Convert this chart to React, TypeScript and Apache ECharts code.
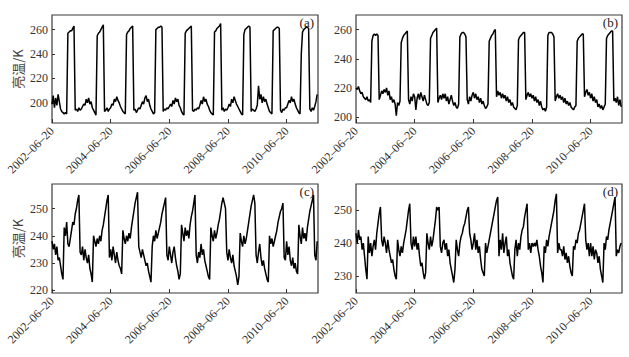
import React, { useEffect, useRef } from "react";
import * as echarts from "echarts";

// Half-monthly samples starting 2002-06-20 (x measured in years since then)
const START_YEAR = 2002;
const STEP_YEARS = 1 / 24;
const X_MAX = 9.07;
const X_TICKS = [0, 2, 4, 6, 8];

const Y_TICKS_A = [200, 220, 240, 260];
const Y_TICKS_B = [200, 220, 240, 260];
const Y_TICKS_C = [220, 230, 240, 250];
const Y_TICKS_D = [230, 240, 250];

const PANEL_LABELS = ["(a)", "(b)", "(c)", "(d)"];
const Y_NAME = "亮温/K";

const seriesA = [
  199, 206, 196, 204, 198, 207, 201, 195, 193, 192, 191, 192, 191, 257, 258, 259, 259, 261, 263, 194, 195, 193, 196, 194,
  195, 197, 199, 198, 203, 200, 204, 199, 201, 196, 194, 192, 190, 255, 257, 258, 260, 262, 264, 193, 194, 196, 193, 195,
  196, 199, 198, 203, 201, 205, 202, 200, 197, 195, 193, 192, 191, 256, 258, 259, 261, 262, 263, 194, 195, 192, 194, 196,
  195, 198, 201, 199, 204, 206, 201, 203, 198, 195, 193, 191, 192, 260, 261, 262, 262, 263, 262, 193, 195, 194, 196, 195,
  197, 199, 197, 202, 199, 204, 201, 203, 198, 196, 193, 191, 190, 257, 259, 260, 261, 262, 263, 194, 193, 195, 194, 196,
  195, 198, 202, 199, 205, 201, 203, 199, 197, 194, 192, 191, 190, 258, 259, 261, 262, 263, 265, 194, 196, 193, 195, 194,
  196, 199, 197, 203, 200, 205, 202, 199, 197, 195, 193, 191, 190, 256, 260, 261, 262, 263, 262, 193, 195, 194, 193, 195,
  198, 214, 203, 207, 200, 205, 201, 203, 199, 196, 193, 192, 191, 259, 260, 261, 262, 262, 261, 194, 192, 195, 194, 196,
  196, 199, 202, 200, 205, 201, 203, 199, 196, 194, 192, 191, 240, 258, 260, 261, 262, 262, 261, 195, 193, 196, 194, 197,
  201, 207,
];

const seriesB = [
  220, 219, 221, 218, 216, 217, 214, 213, 212, 214, 211, 212, 210, 252, 256, 257, 256, 257, 256, 212, 215, 218, 216, 219,
  217, 220, 215, 218, 212, 214, 210, 212, 209, 201, 210, 208, 211, 251, 254, 256, 257, 258, 259, 212, 209, 214, 211, 216,
  214, 205, 213, 216, 212, 217, 214, 211, 215, 212, 209, 208, 210, 254, 256, 258, 259, 260, 261, 210, 213, 215, 212, 216,
  213, 216, 211, 214, 209, 212, 215, 211, 208, 210, 207, 206, 209, 255, 257, 258, 258, 257, 255, 212, 209, 214, 211, 215,
  217, 213, 216, 212, 214, 210, 213, 209, 211, 208, 206, 207, 209, 252, 254, 256, 257, 259, 260, 214, 218, 215, 217, 213,
  216, 213, 215, 211, 214, 210, 212, 208, 210, 207, 206, 205, 208, 253, 255, 256, 257, 258, 258, 212, 215, 217, 214, 216,
  213, 215, 211, 214, 210, 212, 208, 211, 207, 205, 206, 204, 207, 256, 258, 258, 258, 257, 255, 211, 214, 216, 213, 215,
  212, 214, 210, 213, 209, 211, 208, 210, 207, 206, 205, 207, 208, 252, 254, 255, 256, 257, 257, 214, 217, 219, 215, 217,
  213, 216, 211, 214, 210, 212, 207, 209, 206, 208, 205, 207, 209, 254, 256, 257, 258, 259, 259, 211, 213, 210, 214, 208,
  212, 207,
];

const seriesC = [
  238, 235, 237, 233, 236, 231, 232, 229, 226, 224, 243, 240, 245, 237, 236, 239, 242, 245, 244, 248, 250, 253, 255, 234,
  233, 236, 231, 235, 232, 230, 233, 228, 226, 223, 240, 238, 236, 239, 237, 240, 238, 242, 244, 247, 250, 253, 255, 232,
  235, 231, 236, 233, 230, 234, 231, 229, 228, 226, 242, 239, 237, 240, 238, 241, 239, 243, 246, 249, 252, 254, 256, 236,
  234, 232, 235, 233, 231, 229, 230, 227, 225, 223, 236, 240, 238, 242, 239, 241, 243, 245, 248, 250, 252, 254, 233, 231,
  236, 233, 230, 234, 236, 232, 229, 227, 224, 226, 244, 241, 238, 243, 240, 242, 239, 244, 247, 249, 252, 255, 233, 230,
  234, 232, 237, 233, 235, 231, 229, 227, 225, 224, 243, 240, 238, 242, 239, 241, 244, 246, 249, 252, 254, 252, 250, 234,
  231, 235, 232, 230, 233, 229, 227, 225, 222, 225, 241, 238, 236, 240, 237, 239, 242, 245, 248, 251, 253, 255, 252, 233,
  230, 234, 237, 232, 229, 231, 228, 226, 224, 223, 240, 237, 239, 236, 238, 240, 242, 245, 247, 249, 250, 252, 232, 231,
  238, 233, 236, 231, 229, 232, 228, 230, 227, 226, 244, 240, 237, 243, 239, 241, 238, 243, 246, 249, 251, 253, 255, 233,
  231, 238,
];

const seriesD = [
  243, 240, 244, 241, 242, 238, 240, 236, 232, 229, 242, 237, 240, 236, 239, 241, 238, 243, 246, 249, 251, 241, 239, 242,
  240, 237, 241, 238, 236, 234, 235, 232, 230, 229, 241, 238, 236, 239, 237, 240, 242, 244, 247, 250, 252, 240, 238, 242,
  239, 242, 238, 240, 236, 233, 234, 231, 229, 231, 243, 240, 238, 242, 239, 241, 244, 247, 251, 250, 251, 239, 237, 240,
  241, 238, 240, 236, 238, 234, 232, 230, 228, 232, 241, 238, 236, 240, 242, 243, 245, 246, 248, 250, 251, 243, 241, 238,
  240, 243, 238, 241, 237, 239, 235, 232, 231, 230, 240, 237, 239, 241, 243, 245, 247, 249, 251, 253, 254, 236, 241, 238,
  243, 237, 240, 242, 236, 238, 234, 232, 230, 229, 238, 241, 236, 240, 238, 242, 244, 245, 248, 250, 252, 238, 240, 237,
  240, 239, 240, 239, 241, 238, 236, 233, 231, 228, 239, 237, 241, 239, 242, 244, 246, 248, 250, 253, 255, 237, 240, 238,
  238, 236, 239, 235, 237, 234, 236, 233, 231, 230, 239, 238, 241, 240, 243, 244, 246, 248, 250, 252, 241, 238, 240, 236,
  240, 236, 239, 235, 238, 237, 234, 236, 232, 230, 228, 240, 238, 242, 241, 244, 246, 248, 250, 252, 254, 236, 238, 237,
  239, 240,
];

const SERIES = [seriesA, seriesB, seriesC, seriesD];
const Y_TICKS = [Y_TICKS_A, Y_TICKS_B, Y_TICKS_C, Y_TICKS_D];
const Y_RANGES: [number, number][] = [
  [183.5, 272],
  [196, 270],
  [219, 259],
  [224.8, 258],
];

// layout (pixels)
const GRIDS = [
  { left: 52, top: 15, width: 266, height: 108 },
  { left: 356, top: 15, width: 266, height: 108 },
  { left: 52, top: 184, width: 266, height: 109 },
  { left: 356, top: 184, width: 266, height: 109 },
];
const LABEL_POS = [
  { right: 315, top: 16 },
  { right: 11, top: 16 },
  { right: 315, top: 185 },
  { right: 11, top: 185 },
];

const SERIF = "'Liberation Serif', 'Times New Roman', serif";
const TEXT_COLOR = "#333";

export default function App() {
  const ref = useRef<HTMLDivElement>(null);
  useEffect(() => {
    if (!ref.current) return;
    const chart = echarts.init(ref.current, undefined, { renderer: "svg" });
    const fmtX = (v: number) => `${START_YEAR + Math.round(v)}–06–20`;
    chart.setOption({
      animation: false,
      backgroundColor: "#fff",
      grid: GRIDS.map((g) => ({
        ...g,
        show: true,
        borderColor: "#3a3a3a",
        borderWidth: 1.2,
        backgroundColor: "transparent",
        containLabel: false,
      })),
      xAxis: GRIDS.map((_, i) => ({
        gridIndex: i,
        type: "value",
        min: 0,
        max: X_MAX,
        axisLine: { show: false },
        splitLine: { show: false },
        axisTick: {
          show: true,
          inside: true,
          length: 4,
          customValues: X_TICKS,
          lineStyle: { color: "#333", width: 1 },
        },
        axisLabel: {
          customValues: X_TICKS,
          rotate: 45,
          margin: 6,
          formatter: fmtX,
          fontFamily: SERIF,
          fontSize: 12,
          color: TEXT_COLOR,
        },
      })),
      yAxis: GRIDS.map((_, i) => ({
        gridIndex: i,
        type: "value",
        min: Y_RANGES[i][0],
        max: Y_RANGES[i][1],
        axisLine: { show: false },
        splitLine: { show: false },
        axisTick: {
          show: true,
          inside: true,
          length: 3,
          customValues: Y_TICKS[i],
          lineStyle: { color: "#333", width: 1 },
        },
        axisLabel: {
          customValues: Y_TICKS[i],
          margin: 4,
          fontFamily: SERIF,
          fontSize: 12,
          color: TEXT_COLOR,
        },
        name: i % 2 === 0 ? Y_NAME : "",
        nameLocation: "middle",
        nameRotate: 90,
        nameGap: 28,
        nameTextStyle: {
          fontFamily: "'Noto Sans CJK SC', " + SERIF,
          fontSize: 13,
          color: "#444",
        },
      })),
      series: SERIES.map((vals, i) => ({
        type: "line",
        xAxisIndex: i,
        yAxisIndex: i,
        showSymbol: false,
        symbol: "none",
        data: vals.map((v, k) => [k * STEP_YEARS, v]),
        lineStyle: { color: "#000", width: 1.5 },
      })),
      graphic: PANEL_LABELS.map((t, i) => ({
        type: "text",
        right: LABEL_POS[i].right,
        top: LABEL_POS[i].top,
        style: { text: t, fontFamily: SERIF, fontSize: 13, fill: "#222" },
      })),
    });
    return () => chart.dispose();
  }, []);
  return (
    <div
      ref={ref}
      style={{ position: "absolute", left: 0, top: 0, width: 629, height: 357 }}
    />
  );
}
